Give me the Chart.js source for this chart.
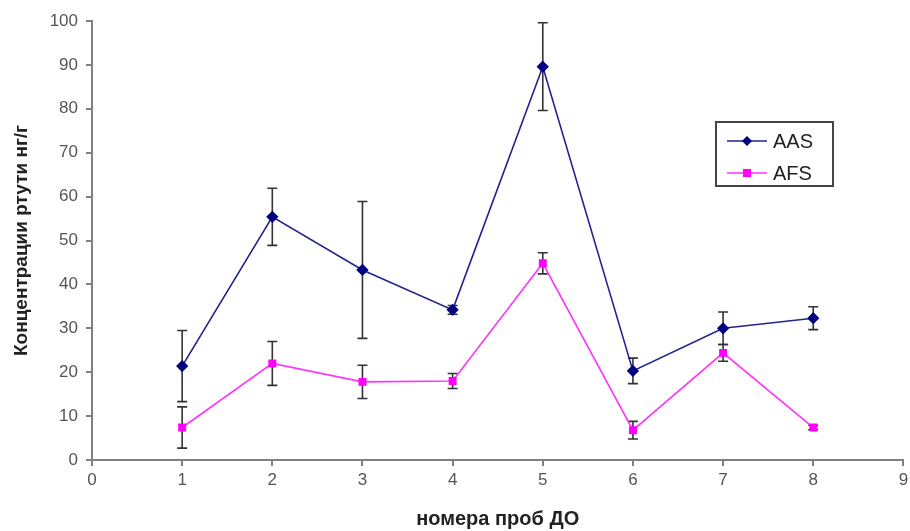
<!DOCTYPE html>
<html>
<head>
<meta charset="utf-8">
<script src="https://cdn.jsdelivr.net/npm/chart.js@4.4.1/dist/chart.umd.min.js"></script>
<style>
  html, body { margin: 0; padding: 0; background: #ffffff; }
  #wrap { width: 910px; height: 531px; }
</style>
</head>
<body>
<div id="wrap"><canvas id="chart" width="910" height="531"></canvas></div>
<script>
// sample numbers (x) and mercury concentration, ng/g
const sampleNumbers = [1, 2, 3, 4, 5, 6, 7, 8];
const aasValues = [21.4, 55.4, 43.3, 34.2, 89.6, 20.3, 30.0, 32.3];
const aasErrors = [8.1, 6.5, 15.6, 1.0, 10.0, 2.9, 3.7, 2.6];
const afsValues = [7.4, 22.0, 17.8, 18.0, 44.8, 6.8, 24.4, 7.4];
const afsErrors = [4.7, 5.0, 3.8, 1.7, 2.4, 2.0, 1.9, 0.5];
const seriesNames = ['AAS', 'AFS'];

const toPoints = vals => sampleNumbers.map((x, i) => ({ x: x, y: vals[i] }));

// vertical error bars with caps, drawn under the markers
const errorBars = {
  id: 'errorBars',
  beforeDatasetsDraw(chart) {
    const { ctx, scales: { x, y } } = chart;
    const sets = [[aasValues, aasErrors], [afsValues, afsErrors]];
    ctx.save();
    ctx.strokeStyle = '#333333';
    ctx.lineWidth = 1.6;
    sets.forEach(([vals, errs]) => {
      sampleNumbers.forEach((n, i) => {
        const px = x.getPixelForValue(n);
        const top = y.getPixelForValue(vals[i] + errs[i]);
        const bot = y.getPixelForValue(vals[i] - errs[i]);
        ctx.beginPath();
        ctx.moveTo(px, top); ctx.lineTo(px, bot);
        ctx.moveTo(px - 5, top); ctx.lineTo(px + 5, top);
        ctx.moveTo(px - 5, bot); ctx.lineTo(px + 5, bot);
        ctx.stroke();
      });
    });
    ctx.restore();
  }
};

// boxed legend inside the plot, like the original
const boxLegend = {
  id: 'boxLegend',
  afterDraw(chart) {
    const ctx = chart.ctx;
    const bx = 716, by = 122, bw = 117, bh = 64;
    ctx.save();
    ctx.fillStyle = '#ffffff';
    ctx.fillRect(bx, by, bw, bh);
    ctx.strokeStyle = '#444444';
    ctx.lineWidth = 2;
    ctx.strokeRect(bx, by, bw, bh);
    chart.data.datasets.forEach((ds, i) => {
      const ly = by + 19 + i * 32;
      ctx.strokeStyle = ds.borderColor;
      ctx.lineWidth = 1.6;
      ctx.beginPath();
      ctx.moveTo(bx + 11, ly); ctx.lineTo(bx + 51, ly);
      ctx.stroke();
      ctx.fillStyle = ds.pointBackgroundColor;
      ctx.beginPath();
      if (ds.pointStyle === 'rectRot') {
        ctx.moveTo(bx + 31, ly - 5); ctx.lineTo(bx + 36, ly);
        ctx.lineTo(bx + 31, ly + 5); ctx.lineTo(bx + 26, ly);
      } else {
        ctx.rect(bx + 27, ly - 4, 8, 8);
      }
      ctx.fill();
      ctx.fillStyle = '#222222';
      ctx.font = '20px "Liberation Sans", Arial, sans-serif';
      ctx.textBaseline = 'middle';
      ctx.fillText(ds.label, bx + 57, ly + 1);
    });
    ctx.restore();
  }
};

new Chart(document.getElementById('chart'), {
  type: 'line',
  data: {
    datasets: [{
      label: seriesNames[0],
      data: toPoints(aasValues),
      borderColor: '#23238f',
      borderWidth: 1.6,
      pointStyle: 'rectRot',
      pointRadius: 5,
      pointBackgroundColor: '#000080',
      pointBorderColor: '#000080',
      tension: 0
    }, {
      label: seriesNames[1],
      data: toPoints(afsValues),
      borderColor: '#ff33ff',
      borderWidth: 1.6,
      pointStyle: 'rect',
      pointRadius: 4.5,
      pointBackgroundColor: '#ff00ff',
      pointBorderColor: '#ff00ff',
      tension: 0
    }]
  },
  options: {
    responsive: false,
    animation: false,
    layout: { padding: { left: 0, top: 21, right: 0, bottom: 0 } },
    plugins: {
      legend: { display: false },
      tooltip: { enabled: false }
    },
    scales: {
      x: {
        type: 'linear',
        min: 0,
        max: 9,
        afterFit: s => { s.height = 71; s.paddingRight = 0; s.paddingLeft = 0; },
        grid: { drawOnChartArea: false, color: '#808080', tickColor: '#808080', tickLength: 6, lineWidth: 2 },
        border: { color: '#808080', width: 2 },
        ticks: {
          stepSize: 1,
          padding: 4,
          color: '#555555',
          font: { size: 17, family: '"Liberation Sans", Arial, sans-serif' }
        },
        title: {
          display: true,
          text: 'номера проб ДО',
          color: '#222222',
          padding: { top: 0, bottom: 0 },
          font: { size: 20, weight: 'bold', family: '"Liberation Sans", Arial, sans-serif' }
        }
      },
      y: {
        min: 0,
        max: 100,
        afterFit: s => { s.width = 92; },
        grid: { drawOnChartArea: false, color: '#808080', tickColor: '#808080', tickLength: 6, lineWidth: 2 },
        border: { color: '#808080', width: 2 },
        ticks: {
          stepSize: 10,
          padding: 8,
          color: '#555555',
          font: { size: 17, family: '"Liberation Sans", Arial, sans-serif' }
        },
        title: {
          display: true,
          text: 'Концентрации ртути нг/г',
          color: '#222222',
          padding: { top: 10, bottom: 0 },
          font: { size: 19, weight: 'bold', family: '"Liberation Sans", Arial, sans-serif' }
        }
      }
    }
  },
  plugins: [errorBars, boxLegend]
});
</script>
</body>
</html>
